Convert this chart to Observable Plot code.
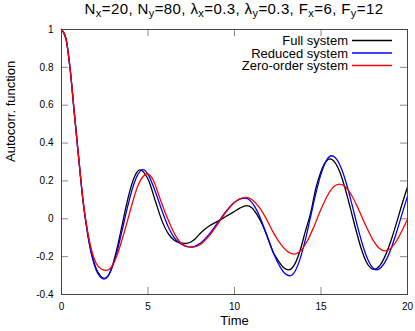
<!DOCTYPE html>
<html><head><meta charset="utf-8">
<script src="https://cdn.jsdelivr.net/npm/d3@7"></script>
<script src="https://cdn.jsdelivr.net/npm/@observablehq/plot@0.6"></script>
<style>body{margin:0;background:#fff;} #chart{width:415px;height:331px;}</style>
</head><body><div id="chart"></div>
<script>
const seriesNames = ["Full system", "Reduced system", "Zero-order system"];
const seriesColors = ["#000000", "#0000ff", "#ff0000"];

const fullT = [0,0.25,0.5,0.75,1.0,1.25,1.5,1.75,2.0,2.25,2.48,2.75,3.0,3.25,3.5,3.75,4.0,4.25,4.55,4.8,5.05,5.42,5.81,6.19,6.5,6.8,7.15,7.45,7.75,8.0,8.25,8.6,9.08,9.5,9.94,10.3,10.71,11.0,11.3,11.58,11.9,12.25,12.5,12.8,13.12,13.5,13.8,14.1,14.4,14.7,15.0,15.3,15.52,15.8,16.1,16.4,16.7,17.0,17.3,17.6,17.85,18.05,18.4,18.75,19.1,19.4,19.7,20];
const fullV = [1.0,0.955,0.79,0.55,0.315,0.09,-0.07,-0.187,-0.262,-0.302,-0.315,-0.292,-0.23,-0.141,-0.035,0.072,0.163,0.229,0.258,0.24,0.2,0.095,-0.011,-0.081,-0.112,-0.126,-0.13,-0.124,-0.104,-0.079,-0.058,-0.034,-0.011,0.012,0.035,0.056,0.07,0.058,0.022,-0.025,-0.097,-0.18,-0.217,-0.255,-0.27,-0.237,-0.165,-0.065,0.03,0.16,0.25,0.304,0.316,0.298,0.244,0.158,0.055,-0.052,-0.15,-0.224,-0.258,-0.267,-0.247,-0.188,-0.1,-0.011,0.082,0.168];

const reducedT = [0,0.25,0.5,0.75,1.0,1.25,1.5,1.75,2.0,2.25,2.45,2.7,2.95,3.2,3.5,3.8,4.1,4.4,4.72,5.0,5.4,5.81,6.19,6.5,6.9,7.44,8.0,8.5,9.0,9.5,10.0,10.62,11.0,11.3,11.6,11.9,12.2,12.5,12.8,13.2,13.5,13.8,14.1,14.4,14.7,15.0,15.3,15.62,15.9,16.2,16.5,16.8,17.1,17.4,17.7,18.0,18.2,18.5,18.8,19.1,19.4,19.7,20];
const reducedV = [1.0,0.955,0.79,0.55,0.315,0.09,-0.075,-0.195,-0.27,-0.308,-0.318,-0.301,-0.252,-0.176,-0.063,0.056,0.16,0.232,0.26,0.235,0.15,0.042,-0.046,-0.098,-0.133,-0.15,-0.131,-0.085,-0.024,0.038,0.087,0.109,0.087,0.043,-0.021,-0.093,-0.167,-0.231,-0.277,-0.301,-0.277,-0.209,-0.109,0.012,0.133,0.236,0.306,0.333,0.315,0.26,0.176,0.072,-0.037,-0.136,-0.214,-0.26,-0.27,-0.255,-0.212,-0.145,-0.061,0.03,0.12];

const zeroT = [0,0.25,0.5,0.75,1.0,1.25,1.5,1.75,2.0,2.3,2.6,2.9,3.2,3.5,3.8,4.1,4.4,4.7,4.95,5.3,5.7,6.19,6.6,7.0,7.54,8.0,8.5,9.0,9.5,10.0,10.3,10.65,11.0,11.4,11.8,12.2,12.6,13.0,13.45,13.8,14.2,14.6,15.0,15.4,15.75,16.06,16.4,16.8,17.2,17.6,18.0,18.35,18.7,19.0,19.4,19.7,20];
const zeroV = [1.0,0.955,0.79,0.55,0.315,0.095,-0.06,-0.17,-0.235,-0.265,-0.273,-0.253,-0.196,-0.11,-0.015,0.085,0.17,0.222,0.238,0.205,0.105,-0.011,-0.09,-0.135,-0.151,-0.137,-0.094,-0.032,0.034,0.086,0.105,0.113,0.102,0.064,0.006,-0.065,-0.125,-0.168,-0.187,-0.172,-0.119,-0.039,0.05,0.127,0.17,0.183,0.169,0.119,0.044,-0.038,-0.111,-0.154,-0.169,-0.158,-0.112,-0.059,-0.002];

const xTicks = [0, 5, 10, 15, 20];
const yTicks = [-0.4, -0.2, 0, 0.2, 0.4, 0.6, 0.8, 1];
const yTickLabels = ["-0.4", "-0.2", "0", "0.2", "0.4", "0.6", "0.8", "1"];
const xLabel = "Time";
const yLabel = "Autocorr. function";
const titleParts = [["N",""],["x","sub"],["=20, N",""],["y","sub"],["=80, λ",""],["x","sub"],["=0.3, λ",""],["y","sub"],["=0.3, F",""],["x","sub"],["=6, F",""],["y","sub"],["=12",""]];

const seriesT = [fullT, reducedT, zeroT];
const seriesV = [fullV, reducedV, zeroV];
const data = [];
seriesNames.forEach((name, i) => {
  seriesT[i].forEach((t, j) => data.push({series: name, t, v: seriesV[i][j]}));
});

const W = 415, H = 331, ML = 61, MR = 8, MT = 29, MB = 37;
const FW = W - ML - MR, FH = H - MT - MB;
const TICK = 7;
const font = "'Liberation Sans', Arial, sans-serif";

const plot = Plot.plot({
  width: W, height: H,
  marginLeft: ML, marginRight: MR, marginTop: MT, marginBottom: MB,
  style: {fontFamily: font, fontSize: "10px", color: "#000", background: "#fff"},
  x: {domain: [0, 20]},
  y: {domain: [-0.4, 1]},
  color: {domain: seriesNames, range: seriesColors},
  marks: [
    Plot.axisX(xTicks, {tickSize: 0, tickPadding: 8, label: null, tickFormat: d => String(d), fontSize: 10}),
    Plot.axisY(yTicks, {tickSize: 0, tickPadding: 8, label: null, tickFormat: d => yTickLabels[yTicks.indexOf(d)], fontSize: 10}),
    Plot.tickX(xTicks, {x: d => d, stroke: "#888", insetTop: FH - TICK}),
    Plot.tickX(xTicks, {x: d => d, stroke: "#888", insetBottom: FH - TICK}),
    Plot.tickY(yTicks, {y: d => d, stroke: "#888", insetRight: FW - TICK}),
    Plot.tickY(yTicks, {y: d => d, stroke: "#888", insetLeft: FW - TICK}),
    Plot.line(data, {x: "t", y: "v", z: "series", stroke: "series", curve: "monotone-x", strokeWidth: 1.3}),
    Plot.frame({stroke: "#444"}),
    Plot.text([yLabel], {frameAnchor: "left", dx: -51, rotate: -90, fontSize: 13, fill: "#000"}),
    Plot.text([xLabel], {frameAnchor: "bottom", dy: 30.5, fontSize: 13, fill: "#000"})
  ]
});

document.getElementById("chart").appendChild(plot);
const svg = d3.select(plot);

// Title with subscripts
const title = svg.append("text")
  .attr("x", ML + FW / 2).attr("y", 14)
  .attr("text-anchor", "middle")
  .attr("font-family", font).attr("font-size", 15)
  .attr("letter-spacing", 0.4).attr("fill", "#000");
titleParts.forEach(([s, kind], i) => {
  const prev = i > 0 ? titleParts[i - 1][1] : "";
  const ts = title.append("tspan").text(s);
  if (kind === "sub") ts.attr("font-size", 11).attr("dy", 3);
  else if (prev === "sub") ts.attr("dy", -3);
});

// Legend
const lg = svg.append("g").attr("font-family", font).attr("font-size", 13);
const lx = W - MR - 15;
seriesNames.forEach((name, i) => {
  const yy = MT + 11.5 + i * 12.5;
  lg.append("text").attr("x", lx - 44).attr("y", yy + 4.5).attr("text-anchor", "end").attr("fill", "#000").text(name);
  lg.append("line").attr("x1", lx - 40).attr("x2", lx).attr("y1", yy).attr("y2", yy)
    .attr("stroke", seriesColors[i]).attr("stroke-width", 1.3);
});
</script>
</body></html>
